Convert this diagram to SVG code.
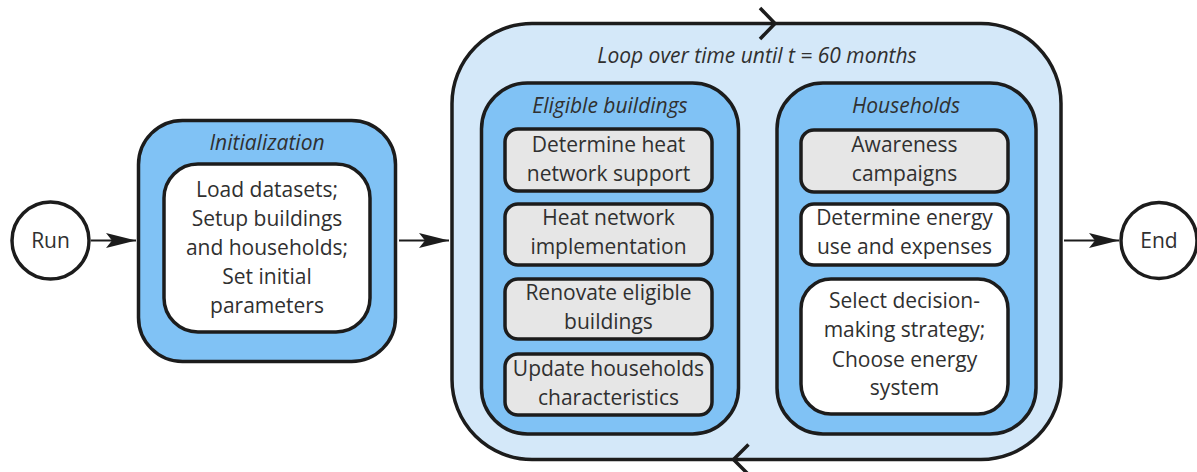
<svg xmlns="http://www.w3.org/2000/svg" width="1197" height="472" viewBox="0 0 1197 472">
  <style>
    .frame { stroke: #1c1c1c; stroke-width: 3.5; }
    .loop { fill: #d4e8f9; }
    .blue { fill: #80c2f5; }
    .step { fill: #e6e6e6; stroke: #1c1c1c; stroke-width: 3.5; }
    .plain { fill: #ffffff; stroke: #1c1c1c; stroke-width: 3.5; }
    .term { fill: #ffffff; stroke: #1c1c1c; stroke-width: 3.5; }
    text { font-family: "Open Sans", "Noto Sans", "Liberation Sans", sans-serif; font-size: 21px; fill: #303030; text-anchor: middle; }
    .title { font-style: italic; }
    .edge { stroke: #1c1c1c; stroke-width: 2; fill: none; }
    .chev { stroke: #1c1c1c; stroke-width: 3.5; fill: none; stroke-linecap: butt; stroke-linejoin: miter; }
  </style>
  <defs>
    <marker id="arrow" markerUnits="userSpaceOnUse" markerWidth="32" markerHeight="18" refX="30" refY="9" orient="auto">
      <path d="M0,1.5 L30,9 L0,16.5 L6,9 Z" fill="#1c1c1c"/>
    </marker>
  </defs>

  <rect width="1197" height="472" fill="#ffffff"/>

  <!-- start / end terminals -->
  <g id="run">
    <circle class="term" cx="50.5" cy="240.5" r="38.5"/>
    <text x="50.5" y="248">Run</text>
  </g>
  <g id="end">
    <circle class="term" cx="1159" cy="240.5" r="38"/>
    <text x="1159" y="248">End</text>
  </g>

  <!-- initialization stage -->
  <g id="initialization">
    <rect class="blue frame" x="138.5" y="120.5" width="257" height="241" rx="44"/>
    <text class="title" x="267" y="150">Initialization</text>
    <rect class="plain" x="164" y="164" width="206" height="168" rx="34"/>
    <text x="267" y="197">Load datasets;</text>
    <text x="267" y="226">Setup buildings</text>
    <text x="267" y="255">and households;</text>
    <text x="267" y="284">Set initial</text>
    <text x="267" y="313">parameters</text>
  </g>

  <!-- monthly loop -->
  <g id="loop">
    <rect class="loop frame" x="452" y="23.5" width="609" height="436" rx="80"/>
    <text class="title" x="757" y="63">Loop over time until t = 60 months</text>
    <polyline class="chev" points="760,8 775,23.5 760,39"/>
    <polyline class="chev" points="748.5,444.5 733.5,459.5 748.5,474.5"/>
  </g>

  <g id="eligible-buildings">
    <rect class="blue frame" x="481.5" y="83" width="257" height="351" rx="46"/>
    <text class="title" x="610" y="113">Eligible buildings</text>
  </g>
  <g id="heat-network-support">
    <rect class="step" x="505" y="129" width="207" height="62" rx="13"/>
    <text x="608.5" y="152">Determine heat</text>
    <text x="608.5" y="181">network support</text>
  </g>
  <g id="heat-network-implementation">
    <rect class="step" x="505" y="204" width="207" height="61" rx="13"/>
    <text x="608.5" y="225">Heat network</text>
    <text x="608.5" y="254">implementation</text>
  </g>
  <g id="renovate-buildings">
    <rect class="step" x="505" y="279" width="207" height="60" rx="13"/>
    <text x="608.5" y="300">Renovate eligible</text>
    <text x="608.5" y="329">buildings</text>
  </g>
  <g id="update-households">
    <rect class="step" x="505" y="354" width="207" height="61" rx="13"/>
    <text x="608.5" y="376">Update households</text>
    <text x="608.5" y="405">characteristics</text>
  </g>

  <g id="households">
    <rect class="blue frame" x="777" y="83" width="259" height="351" rx="46"/>
    <text class="title" x="906" y="113">Households</text>
  </g>
  <g id="awareness-campaigns">
    <rect class="step" x="801" y="130" width="207" height="62" rx="13"/>
    <text x="904.5" y="152">Awareness</text>
    <text x="904.5" y="181">campaigns</text>
  </g>
  <g id="energy-use">
    <rect class="plain" x="801" y="204" width="207" height="61" rx="13"/>
    <text x="904.5" y="225">Determine energy</text>
    <text x="904.5" y="254">use and expenses</text>
  </g>
  <g id="choose-system">
    <rect class="plain" x="801" y="279" width="207" height="135" rx="30"/>
    <text x="904.5" y="308">Select decision-</text>
    <text x="904.5" y="337">making strategy;</text>
    <text x="904.5" y="367">Choose energy</text>
    <text x="904.5" y="395">system</text>
  </g>

  <!-- flow connectors -->
  <g id="connectors">
    <line class="edge" x1="91" y1="240.5" x2="136" y2="240.5" marker-end="url(#arrow)"/>
    <line class="edge" x1="399" y1="240.5" x2="449" y2="240.5" marker-end="url(#arrow)"/>
    <line class="edge" x1="1064" y1="240.5" x2="1119" y2="240.5" marker-end="url(#arrow)"/>
  </g>
</svg>
